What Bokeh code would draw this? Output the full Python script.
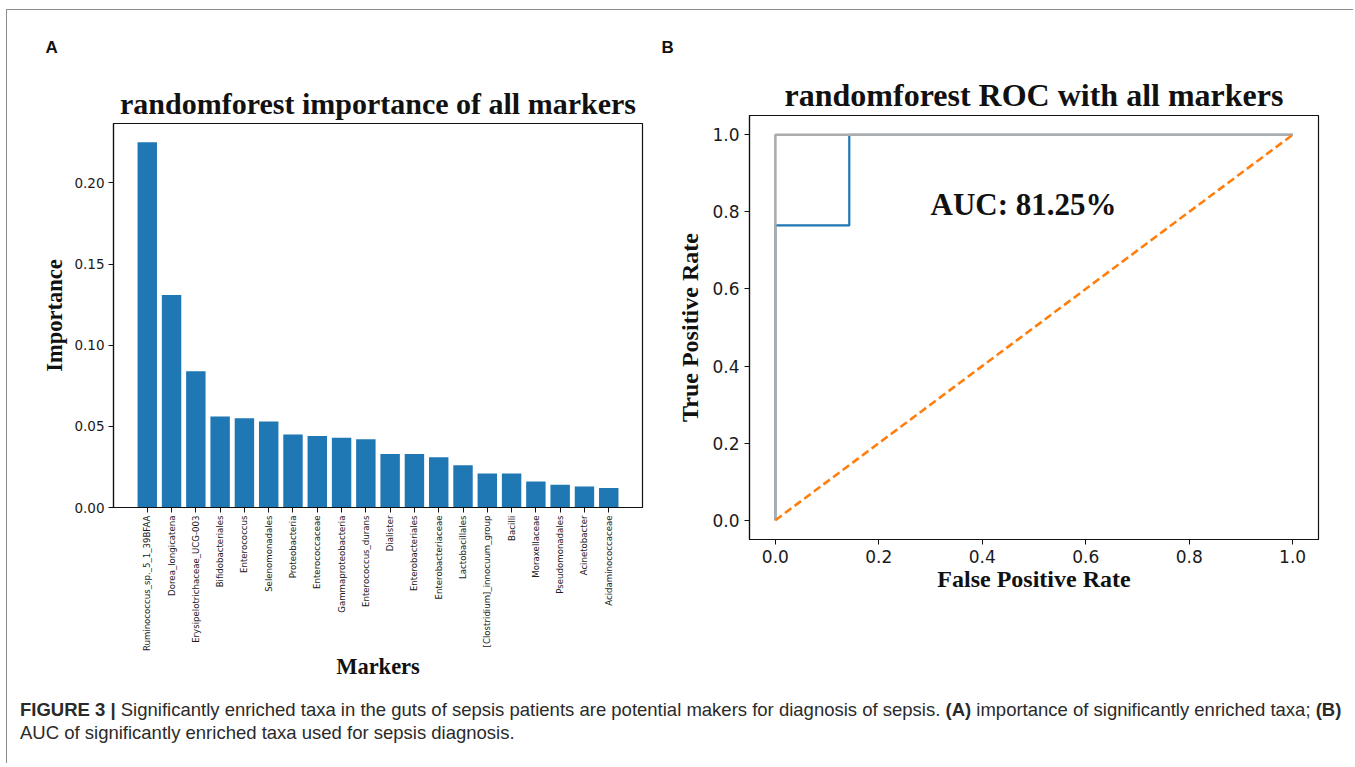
import math
from bokeh.plotting import figure
from bokeh.models import FactorRange, Range1d, FixedTicker, PrintfTickFormatter, Title, Div
from bokeh.layouts import row, column
from bokeh.embed import file_html
from bokeh.resources import INLINE
from bokeh.core.properties import value

# ---------------- data ----------------
markers = [
    "Ruminococcus_sp._5_1_39BFAA", "Dorea_longicatena", "Erysipelotrichaceae_UCG-003",
    "Bifidobacteriales", "Enterococcus", "Selenomonadales", "Proteobacteria",
    "Enterococcaceae", "Gammaproteobacteria", "Enterococcus_durans", "Dialister",
    "Enterobacteriales", "Enterobacteriaceae", "Lactobacillales",
    "[Clostridium]_innocuum_group", "Bacilli", "Moraxellaceae", "Pseudomonadales",
    "Acinetobacter", "Acidaminococcaceae",
]
importance = [0.225, 0.131, 0.084, 0.056, 0.055, 0.053, 0.045, 0.044, 0.043, 0.042,
              0.033, 0.033, 0.031, 0.026, 0.021, 0.021, 0.016, 0.014, 0.013, 0.012]
importance_ticks = [0.0, 0.05, 0.10, 0.15, 0.20]

roc_fpr = [0.0, 0.0, 0.1429, 0.1429, 1.0]
roc_tpr = [0.0, 0.7647, 0.7647, 1.0, 1.0]
perfect_fpr = [0.0, 0.0, 1.0]
perfect_tpr = [0.0, 1.0, 1.0]
chance_fpr = [0.0, 1.0]
chance_tpr = [0.0, 1.0]
rate_ticks = [0.0, 0.2, 0.4, 0.6, 0.8, 1.0]
auc_text = "AUC: 81.25%"

SERIF = value("Liberation Serif")
SANS = "DejaVu Sans"
BLUE = "#1f77b4"
ORANGE = "#ff7f0e"
GREY = "#acacac"


def style(p):
    p.background_fill_color = "white"
    p.border_fill_color = "white"
    p.outline_line_color = "#111111"
    p.outline_line_width = 1.2
    p.xgrid.visible = False
    p.ygrid.visible = False
    for ax in (p.xaxis[0], p.yaxis[0]):
        ax.axis_line_color = "#111111"
        ax.axis_line_width = 1.2
        ax.major_tick_line_color = "#111111"
        ax.major_tick_in = 0
        ax.major_tick_out = 5
        ax.minor_tick_line_color = None
        ax.major_label_text_font = SANS
        ax.major_label_text_color = "#1a1a1a"
        ax.axis_label_text_font = "Liberation Serif"
        ax.axis_label_text_font_style = "bold"
        ax.axis_label_text_color = "#111111"


# ---------------- panel A ----------------
pa = figure(
    x_range=FactorRange(*markers, range_padding=0.089),
    y_range=Range1d(0, 0.2366),
    frame_width=529, frame_height=384,
    min_border_left=106, min_border_right=13, min_border_top=113, min_border_bottom=182,
    output_backend="svg", toolbar_location=None, title=None,
)
pa.vbar(x=markers, top=importance, width=0.8, fill_color=BLUE, line_color=None)
style(pa)
pa.yaxis.ticker = FixedTicker(ticks=importance_ticks)
pa.yaxis.formatter = PrintfTickFormatter(format="%.2f")
pa.yaxis.major_label_text_font_size = "13.5px"
pa.yaxis.major_label_standoff = 4
pa.xaxis.major_label_orientation = math.pi / 2
pa.xaxis.major_label_text_font_size = "8.6px"
pa.xaxis.major_label_standoff = 3
pa.xaxis.axis_label = "Markers"
pa.yaxis.axis_label = "Importance"
pa.xaxis.axis_label_text_font_size = "22.5px"
pa.yaxis.axis_label_text_font_size = "22.5px"
pa.xaxis.axis_label_standoff = 0
pa.yaxis.axis_label_standoff = 4
pa.add_layout(Title(text="randomforest importance of all markers", align="center",
                    text_font="Liberation Serif", text_font_style="bold",
                    text_font_size="30px", text_color="#111111", standoff=7), "above")
pa.add_layout(Title(text="A", align="left", offset=-68, text_font="Liberation Sans",
                    text_font_style="bold", text_font_size="17px", text_color="#111111",
                    standoff=50), "above")

# ---------------- panel B ----------------
pb = figure(
    x_range=Range1d(-0.05, 1.05), y_range=Range1d(-0.05, 1.05),
    frame_width=569, frame_height=424,
    min_border_left=94, min_border_right=29, min_border_top=113, min_border_bottom=148,
    output_backend="svg", toolbar_location=None, title=None,
    margin=(-8, 0, 0, 0),
)
style(pb)
pb.border_fill_alpha = 0
pb.line(roc_fpr, roc_tpr, line_color=BLUE, line_width=2.2)
pb.line(perfect_fpr, perfect_tpr, line_color=GREY, line_width=2.6)
pb.line(chance_fpr, chance_tpr, line_color=ORANGE, line_width=2.6, line_dash="8 4")
pb.text(x=[0.3], y=[0.818], text=[auc_text], text_font=SERIF, text_font_style="bold",
        text_font_size="31px", text_color="#111111", text_baseline="alphabetic",
        text_align="left")
for ax in (pb.xaxis, pb.yaxis):
    ax.ticker = FixedTicker(ticks=rate_ticks)
    ax.formatter = PrintfTickFormatter(format="%.1f")
    ax.major_label_text_font_size = "17px"
    ax.major_label_standoff = 5
    ax.axis_label_text_font_size = "24px"
pb.xaxis.axis_label = "False Positive Rate"
pb.yaxis.axis_label = "True Positive Rate"
pb.xaxis.axis_label_standoff = 0
pb.yaxis.axis_label_standoff = 6
pb.add_layout(Title(text="randomforest ROC with all markers", align="center",
                    text_font="Liberation Serif", text_font_style="bold",
                    text_font_size="32px", text_color="#111111", standoff=6), "above")
pb.add_layout(Title(text="B", align="left", offset=-88, text_font="Liberation Sans",
                    text_font_style="bold", text_font_size="17px", text_color="#111111",
                    standoff=29), "above")

# ---------------- caption ----------------
caption = Div(
    text=("<b>FIGURE 3 |</b> Significantly enriched taxa in the guts of sepsis patients are "
          "potential makers for diagnosis of sepsis. <b>(A)</b> importance of significantly "
          "enriched taxa; <b>(B)</b><br>AUC of significantly enriched taxa used for sepsis diagnosis."),
    width=1328,
    styles={"font-family": "'Liberation Sans', Arial, sans-serif",
            "font-size": "18.5px", "line-height": "23px", "color": "#2a2a2a",
            "white-space": "nowrap", "margin-left": "13px", "margin-top": "9px",
            "padding-bottom": "14px"},
)

layout = column(row(pa, pb), caption, margin=(9, 0, 0, 6),
                styles={"border-top": "1px solid #8c8c8c", "border-left": "1px solid #8c8c8c"})

open("out.html", "w").write(file_html(layout, INLINE))
